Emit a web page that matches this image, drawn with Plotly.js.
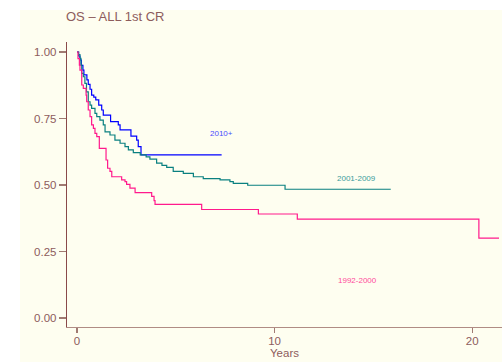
<!DOCTYPE html>
<html><head><meta charset="utf-8">
<script src="https://cdn.plot.ly/plotly-3.0.1.min.js"></script>
<style>
html,body{margin:0;padding:0;background:#ffffff;width:502px;height:362px;overflow:hidden}
#chart{position:absolute;left:20px;top:10px;width:482px;height:352px}
</style></head><body>
<div id="chart"></div>
<script>
// Kaplan-Meier estimates (years, survival)
const t2010 = [0, 0.08, 0.15, 0.22, 0.3, 0.35, 0.5, 0.57, 0.66, 0.74, 0.85, 0.95, 1.1, 1.25, 1.33, 1.7, 2.09, 2.18, 2.73, 3.02, 3.1, 3.24, 7.32];
const s2010 = [1.0, 0.985, 0.97, 0.95, 0.932, 0.914, 0.895, 0.878, 0.86, 0.838, 0.83, 0.82, 0.80, 0.782, 0.763, 0.738, 0.726, 0.707, 0.684, 0.669, 0.644, 0.613, 0.613];

const t2001 = [0, 0.08, 0.15, 0.2, 0.24, 0.32, 0.4, 0.48, 0.57, 0.66, 0.74, 0.91, 1.0, 1.16, 1.33, 1.42, 1.67, 1.92, 2.18, 2.43, 2.6, 2.85, 3.2, 3.5, 3.69, 4.03, 4.3, 4.54, 4.87, 5.38, 5.89, 6.39, 7.24, 7.74, 7.91, 8.64, 10.53, 15.88];
const s2001 = [1.0, 0.99, 0.976, 0.951, 0.92, 0.907, 0.882, 0.85, 0.813, 0.80, 0.788, 0.769, 0.757, 0.744, 0.726, 0.70, 0.688, 0.669, 0.657, 0.644, 0.632, 0.622, 0.613, 0.606, 0.597, 0.582, 0.574, 0.566, 0.551, 0.544, 0.531, 0.524, 0.519, 0.513, 0.506, 0.499, 0.484, 0.484];

const t1992 = [0, 0.05, 0.12, 0.15, 0.24, 0.32, 0.46, 0.49, 0.57, 0.66, 0.74, 0.83, 0.91, 1.0, 1.13, 1.47, 1.55, 1.67, 1.76, 2.26, 2.43, 2.51, 2.68, 2.94, 3.78, 3.9, 3.95, 6.31, 9.18, 11.15, 20.34, 21.36];
const s1992 = [1.0, 0.975, 0.951, 0.932, 0.876, 0.863, 0.838, 0.813, 0.782, 0.757, 0.726, 0.713, 0.694, 0.682, 0.638, 0.594, 0.563, 0.551, 0.531, 0.519, 0.513, 0.502, 0.488, 0.471, 0.457, 0.441, 0.427, 0.408, 0.391, 0.372, 0.300, 0.300];

const seriesNames = ["2010+", "2001-2009", "1992-2000"];
const labelX = [7.31, 14.17, 14.2];
const labelY = [0.692, 0.525, 0.140];
const yTicks = [0, 0.25, 0.5, 0.75, 1.0];
const xTicks = [0, 10, 20];

const colors = ["#0000ff", "#0a8080", "#ff1a8c"];
const labelColors = ["#4a4aff", "#3a9c9c", "#ff4a9c"];
const times = [t2010, t2001, t1992];
const surv = [s2010, s2001, s1992];

const traces = times.map((t, i) => ({
  x: t, y: surv[i], type: "scatter", mode: "lines",
  line: {shape: "hv", color: colors[i], width: 1.2},
  name: seriesNames[i], showlegend: false, hoverinfo: "skip"
}));

const axisCol = "#8a4a4a";
const textCol = "#8d5c5c";
const font = "Liberation Sans, Arial, sans-serif";

const layout = {
  width: 482, height: 352,
  paper_bgcolor: "#fefef0", plot_bgcolor: "#fefef0",
  margin: {l: 47, r: 0, t: 32, b: 35, pad: 0},
  showlegend: false,
  title: {text: "OS – ALL 1st CR", font: {family: font, size: 13, color: textCol},
          xref: "container", yref: "container", x: 46/482, xanchor: "left", y: 1 - 6/352, yanchor: "middle"},
  xaxis: {range: [-0.506, 21.51], tickvals: xTicks, ticktext: xTicks.map(String),
          showgrid: false, zeroline: false, showline: true, linecolor: "#b08c84", linewidth: 1.2,
          ticks: "outside", ticklen: 5, tickcolor: "#a07a72", tickwidth: 1.2, ticklabelstandoff: -2,
          tickfont: {family: font, size: 11.5, color: textCol},
          title: {text: "Years", font: {family: font, size: 11.5, color: textCol}, standoff: 3}},
  yaxis: {range: [-0.0338, 1.0376], tickvals: yTicks, ticktext: yTicks.map(v => v.toFixed(2)),
          showgrid: false, zeroline: false, showline: true, linecolor: axisCol, linewidth: 1.2,
          ticks: "outside", ticklen: 7, tickcolor: "#a07a72", tickwidth: 1.2,
          tickfont: {family: font, size: 11.5, color: textCol}},
  annotations: seriesNames.map((n, i) => ({
    x: labelX[i], y: labelY[i], xref: "x", yref: "y", text: n, showarrow: false,
    font: {family: font, size: 8, color: labelColors[i]}, xanchor: "center", yanchor: "middle"
  }))
};

Plotly.newPlot("chart", traces, layout, {displayModeBar: false, staticPlot: true});
</script>
</body></html>
